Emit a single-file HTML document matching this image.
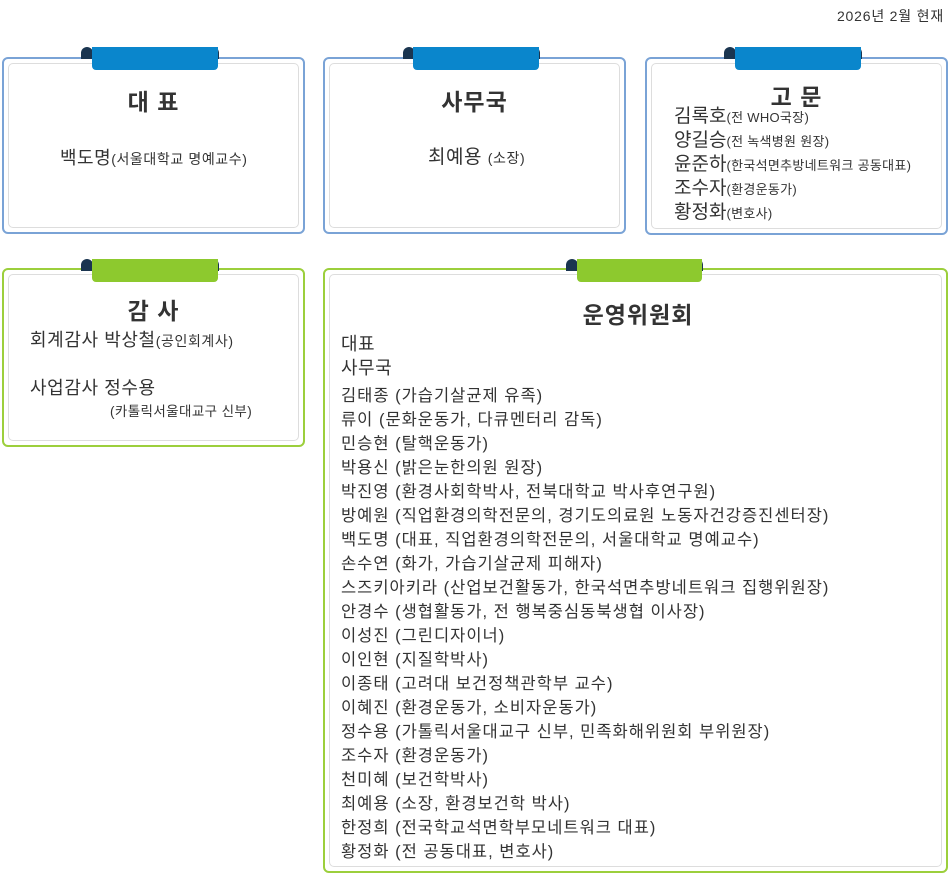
<!DOCTYPE html>
<html><head><meta charset="utf-8"><style>
body{margin:0;width:950px;height:890px;background:#fff;font-family:"Liberation Sans","Noto Sans CJK KR",sans-serif;color:#333;position:relative;overflow:hidden}
.box{position:absolute;border:2px solid #7aa3d6;border-radius:6px;box-sizing:border-box;background:#fff}
.box::after{content:"";position:absolute;left:4px;top:4px;right:4px;bottom:4px;border:1px solid #ddd;border-radius:5px}
.g{border-color:#9ccf3c}
.tab{position:absolute;height:23px;border-radius:0 0 4px 4px;z-index:2}
.curl{position:absolute;height:12px;width:12px;border-radius:6px 6px 0 0;background:#1a3550;z-index:1}
.t{position:absolute;font-weight:bold;font-size:23px;letter-spacing:1px;text-align:center;z-index:3}
.a{position:absolute;z-index:3;white-space:nowrap}
small{font-size:13px;letter-spacing:0.3px}
.s2 small{font-size:14px;letter-spacing:0.6px}
</style></head><body>
<div class="a" style="right:6px;top:6px;font-size:14px;letter-spacing:0.8px">2026년 2월 현재</div>

<div class="box" style="left:2px;top:57px;width:303px;height:177px"></div>
<div class="curl" style="left:81px;top:47px"></div><div class="curl" style="left:207px;top:47px"></div>
<div class="tab" style="left:92px;top:47px;width:126px;background:#0a86cc"></div>
<div class="t" style="left:2px;width:303px;top:83px">대 표</div>
<div class="a s2" style="left:60px;top:144px;font-size:18px;letter-spacing:0.5px">백도명<small>(서울대학교 명예교수)</small></div>

<div class="box" style="left:323px;top:57px;width:303px;height:177px"></div>
<div class="curl" style="left:403px;top:47px"></div><div class="curl" style="left:528px;top:47px"></div>
<div class="tab" style="left:413px;top:47px;width:126px;background:#0a86cc"></div>
<div class="t" style="left:323px;width:303px;top:83px">사무국</div>
<div class="a s2" style="left:428px;top:142px;font-size:19px;letter-spacing:0.5px">최예용 <small>(소장)</small></div>

<div class="box" style="left:645px;top:57px;width:303px;height:178px"></div>
<div class="curl" style="left:724px;top:47px"></div><div class="curl" style="left:850px;top:47px"></div>
<div class="tab" style="left:735px;top:47px;width:126px;background:#0a86cc"></div>
<div class="t" style="left:645px;width:303px;top:78px">고 문</div>
<div class="a" style="left:674px;top:105px;font-size:19px;line-height:23px">김록호<small>(전 WHO국장)</small><br>양길승<small>(전 녹색병원 원장)</small><br>윤준하<small>(한국석면추방네트워크 공동대표)</small><br>조수자<small>(환경운동가)</small><br>황정화<small>(변호사)</small></div>

<div class="box g" style="left:2px;top:268px;width:303px;height:179px"></div>
<div class="curl" style="left:81px;top:259px"></div><div class="curl" style="left:207px;top:259px"></div>
<div class="tab" style="left:92px;top:259px;width:126px;background:#8dc92e"></div>
<div class="t" style="left:2px;width:303px;top:292px">감 사</div>
<div class="a s2" style="left:30px;top:326px;font-size:18px;letter-spacing:0.6px">회계감사 박상철<small>(공인회계사)</small></div>
<div class="a" style="left:30px;top:374px;font-size:18px;letter-spacing:0.6px">사업감사 정수용</div>
<div class="a" style="left:110px;top:400px;font-size:13.5px;letter-spacing:0.4px">(카톨릭서울대교구 신부)</div>

<div class="box g" style="left:323px;top:268px;width:625px;height:605px"></div>
<div class="curl" style="left:566px;top:259px"></div><div class="curl" style="left:691px;top:259px"></div>
<div class="tab" style="left:577px;top:259px;width:125px;background:#8dc92e"></div>
<div class="t" style="left:323px;width:630px;top:296px">운영위원회</div>
<div class="a" style="left:341px;top:332px;font-size:18px;line-height:24px;letter-spacing:0.5px">대표<br>사무국</div>
<div class="a" style="left:341px;top:384px;font-size:16.5px;line-height:24px;letter-spacing:1px">김태종 (가습기살균제 유족)<br>류이 (문화운동가, 다큐멘터리 감독)<br>민승현 (탈핵운동가)<br>박용신 (밝은눈한의원 원장)<br>박진영 (환경사회학박사, 전북대학교 박사후연구원)<br>방예원 (직업환경의학전문의, 경기도의료원 노동자건강증진센터장)<br>백도명 (대표, 직업환경의학전문의, 서울대학교 명예교수)<br>손수연 (화가, 가습기살균제 피해자)<br>스즈키아키라 (산업보건활동가, 한국석면추방네트워크 집행위원장)<br>안경수 (생협활동가, 전 행복중심동북생협 이사장)<br>이성진 (그린디자이너)<br>이인현 (지질학박사)<br>이종태 (고려대 보건정책관학부 교수)<br>이혜진 (환경운동가, 소비자운동가)<br>정수용 (가톨릭서울대교구 신부, 민족화해위원회 부위원장)<br>조수자 (환경운동가)<br>천미혜 (보건학박사)<br>최예용 (소장, 환경보건학 박사)<br>한정희 (전국학교석면학부모네트워크 대표)<br>황정화 (전 공동대표, 변호사)</div>
</body></html>
